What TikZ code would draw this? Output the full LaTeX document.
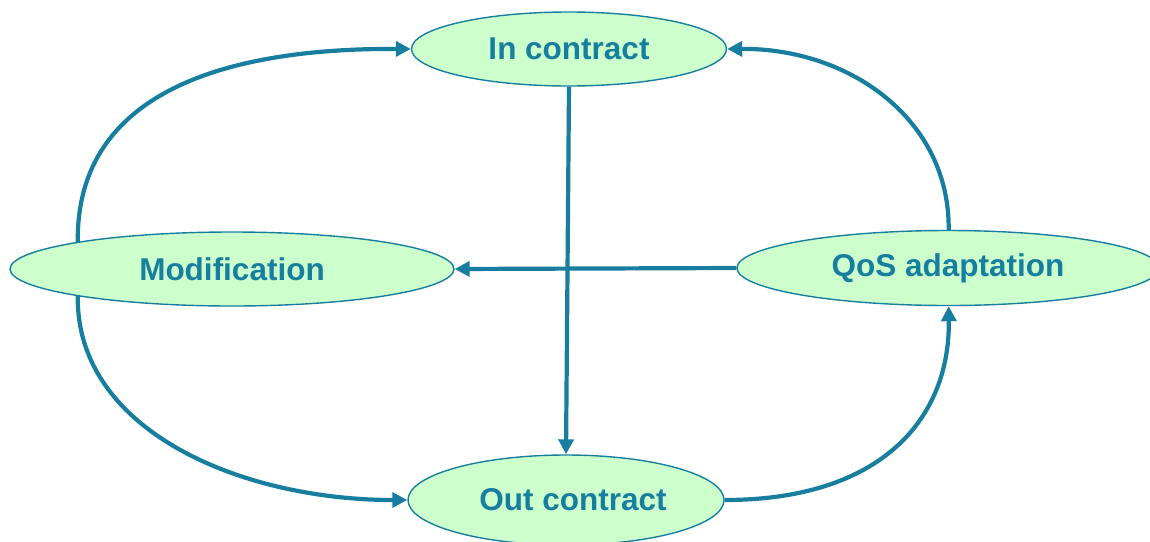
\documentclass[tikz,border=0pt]{standalone}
\usepackage{fontspec}
\setmainfont{Liberation Sans}
\usetikzlibrary{arrows.meta,shapes.geometric}
\definecolor{inkblue}{RGB}{24,126,160}
\definecolor{mint}{RGB}{204,255,204}
\tikzset{
  state/.style={ellipse, draw=inkblue, line width=1.4pt, fill=mint, inner sep=0pt,
    text=inkblue, font=\fontsize{31.5}{36}\selectfont\bfseries},
  flow/.style={draw=inkblue, line width=4.2pt, -{Triangle[length=15pt,width=15pt]}}
}
\begin{document}
\begin{tikzpicture}[x=1pt,y=-1pt]
\useasboundingbox (0,0) rectangle (1150,541);
\node[state, minimum width=315pt, minimum height=74pt] (in)  at (569,49)  {In contract};
\node[state, minimum width=444pt, minimum height=74pt] (mod) at (232,269) {Modification};
\node[state, minimum width=422pt, minimum height=75pt] (qos) at (948,268) {QoS adaptation};
\node[state, minimum width=316pt, minimum height=90pt] (out) at (566,500) {\hspace*{14pt}Out contract};

\draw[flow] (in.south) -- (out.north);
\draw[flow] (qos.west) -- (mod.east);
\draw[flow] (mod.170) .. controls (76,90) and (230,48) .. (in.west);
\draw[flow] (mod.190) .. controls (76,430) and (240,500) .. (out.west);
\draw[flow] (qos.89) .. controls (950,120) and (850,48) .. (in.east);
\draw[flow] (out.east) .. controls (880,500) and (950,420) .. (qos.-89);
\end{tikzpicture}
\end{document}
